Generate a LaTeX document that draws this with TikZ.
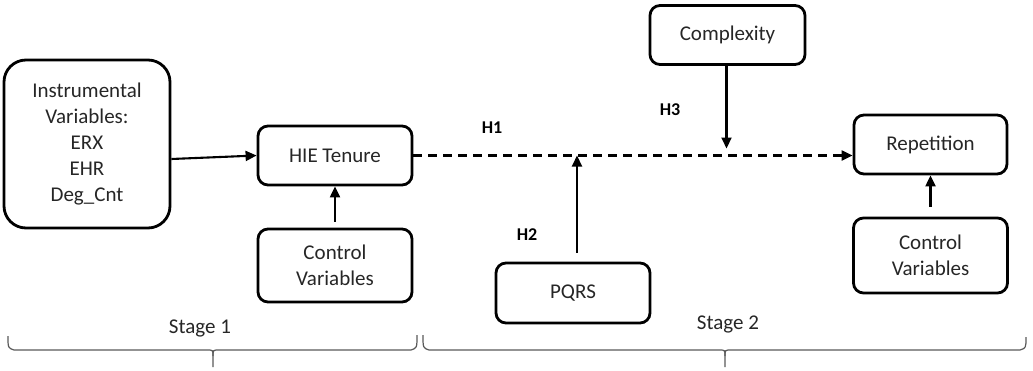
\documentclass[tikz,border=0pt]{standalone}
\usepackage{fontspec}
\setmainfont{Carlito}
\usetikzlibrary{arrows.meta,calc}
\begin{document}
\begin{tikzpicture}[x=1pt,y=-1pt,
  box/.style={draw=black,line width=2.8pt,rounded corners=10pt,align=center,
    text=black!85,font=\fontsize{21}{26}\selectfont,inner sep=0pt},
  arr/.style={line width=2.1pt,-{Triangle[length=11pt,width=10pt]}},
  hlab/.style={font=\fontsize{18}{20}\selectfont\bfseries,text=black},
  stlab/.style={font=\fontsize{21}{24}\selectfont,text=black!85},
  brace/.style={draw=black!65,line width=1.2pt}]
\useasboundingbox (0,0) rectangle (1033,370);
\node[box,rounded corners=22pt,minimum width=166pt,minimum height=168pt] (instr) at (87,144)
  {Instrumental\\Variables:\\ERX\\EHR\\Deg\_Cnt};
\node[box,minimum width=154pt,minimum height=59pt] (hie) at (335,155.5) {HIE Tenure};
\node[box,minimum width=154pt,minimum height=73pt] (ctrla) at (335,265.5) {Control\\Variables};
\node[box,minimum width=154pt,minimum height=60pt] (pqrs) at (573,293) {PQRS};
\node[box,minimum width=155pt,minimum height=59pt] (cplx) at (727.5,35) {Complexity};
\node[box,minimum width=153pt,minimum height=59pt] (rep) at (930.5,144.5) {Repetition};
\node[box,minimum width=154pt,minimum height=75pt] (ctrlb) at (930.5,255.5) {Control\\Variables};

\draw[arr] ([yshift=-15pt]instr.east) -- (hie.west);
\draw[arr,dash pattern=on 9pt off 6pt] (hie.east) -- (hie.east -| rep.west);
\draw[arr] ([yshift=6pt]ctrla.north) -- (hie.south);
\draw[arr] ([yshift=10pt]ctrlb.north) -- (rep.south);
\draw[arr] ([xshift=4pt,yshift=9pt]pqrs.north) -- ([xshift=4pt]pqrs.north |- hie.east);
\draw[arr] ([xshift=-1pt]cplx.south) -- ([xshift=-1pt,yshift=7pt]cplx.south |- hie.east);

\node[hlab] (h1) at (492,128) {H1};
\node[hlab] (h2) at (527,235) {H2};
\node[hlab] (h3) at (670,110) {H3};

\node[stlab] (st1) at (200,328) {Stage 1};
\node[stlab] (st2) at (728,324) {Stage 2};

\draw[brace] (8,336) .. controls (8,348) .. (14,350) -- (207,350)
  .. controls (213,350) .. (213,356) -- (213,367);
\draw[brace] (213,356) .. controls (213,350) .. (219,350) -- (411,350)
  .. controls (417,348) .. (417,335);
\draw[brace] (423,335) .. controls (423,348) .. (429,350) -- (719,350)
  .. controls (725,350) .. (725,356) -- (725,367);
\draw[brace] (725,356) .. controls (725,350) .. (731,350) -- (1020,350)
  .. controls (1026,348) .. (1026,337);
\end{tikzpicture}
\end{document}
